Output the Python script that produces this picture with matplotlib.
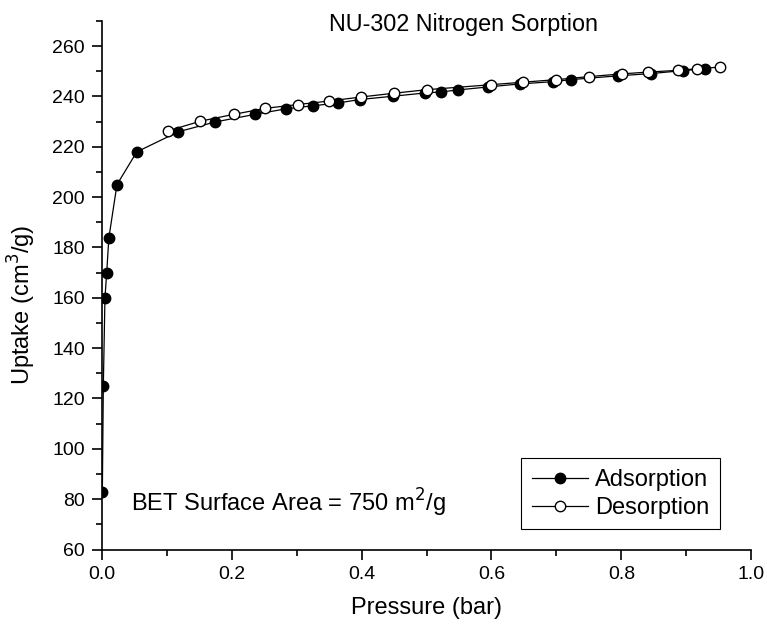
import numpy as np
import matplotlib.pyplot as plt

plt.rcParams['font.family'] = ['Liberation Sans', 'DejaVu Sans']

# adsorption branch (filled)
P_ads = [0.001, 0.0025, 0.005, 0.0077, 0.011, 0.0235, 0.054, 0.118, 0.175, 0.236,
         0.2835, 0.3246, 0.363, 0.3974, 0.448, 0.4975, 0.522, 0.548, 0.595, 0.6435,
         0.695, 0.722, 0.794, 0.845, 0.895, 0.928]
Q_ads = [83, 125, 160, 170, 183.8, 205, 218, 226, 229.9, 232.9,
         235.1, 236.3, 237.4, 238.8, 240.1, 241.4, 241.8, 242.6, 243.8, 245,
         245.9, 246.7, 248.2, 249.1, 250.3, 251]

# desorption branch (open)
P_des = [0.952, 0.916, 0.887, 0.841, 0.801, 0.750, 0.700, 0.649, 0.600, 0.500,
         0.450, 0.399, 0.350, 0.3015, 0.252, 0.203, 0.152, 0.1015]
Q_des = [251.7, 251, 250.4, 249.7, 249, 247.9, 246.7, 245.7, 244.7, 242.7,
         241.3, 239.8, 238.2, 236.8, 235.3, 232.9, 230.2, 226.3]

fig = plt.figure(figsize=(7.67, 6.25), dpi=100)
ax = fig.add_axes([0.1326, 0.1208, 0.847, 0.8456])

ax.plot(P_ads, Q_ads, '-o', color='black', lw=0.9, ms=7.5, mfc='black', mec='black', label='Adsorption')
ax.plot(P_des, Q_des, '-o', color='black', lw=0.9, ms=7.5, mfc='white', mec='black', mew=1.0, label='Desorption')

ax.set_xlim(0, 1.0)
ax.set_ylim(60, 270)
ax.set_xticks(np.arange(0, 1.01, 0.2))
ax.set_xticks(np.arange(0.1, 1.0, 0.2), minor=True)
ax.set_yticks(np.arange(60, 261, 20))
ax.set_yticks(np.arange(70, 271, 20), minor=True)
ax.xaxis.set_major_formatter(plt.FuncFormatter(lambda v, p: '%.1f' % v))

for s in ['top', 'right']:
    ax.spines[s].set_visible(False)
for s in ['left', 'bottom']:
    ax.spines[s].set_linewidth(1.2)
ax.tick_params(which='major', direction='out', length=7, width=1.2, labelsize=14, pad=5)
ax.tick_params(axis='x', which='major', pad=5)
ax.tick_params(which='minor', direction='out', length=4, width=1.2)

ax.set_xlabel('Pressure (bar)', fontsize=17, labelpad=10)
ax.set_ylabel('Uptake (cm$^3$/g)', fontsize=17)
ax.yaxis.set_label_coords(-0.098, 0.4636)
fig.text(329 / 767, 1 - 31 / 625, 'NU-302 Nitrogen Sorption', fontsize=16.8, ha='left', va='baseline')

ax.text(0.0446, 0.0715, 'BET Surface Area = 750 m$^2$/g', transform=ax.transAxes,
        fontsize=17, va='baseline', ha='left')

leg = ax.legend(loc='lower right', bbox_to_anchor=(0.952, 0.038), fontsize=17,
                fancybox=False, framealpha=1, edgecolor='black', handlelength=2.4,
                borderpad=0.45, labelspacing=0.25, handletextpad=0.3, borderaxespad=0)
leg.get_frame().set_linewidth(0.8)

fig.savefig('out.png', dpi=100)
